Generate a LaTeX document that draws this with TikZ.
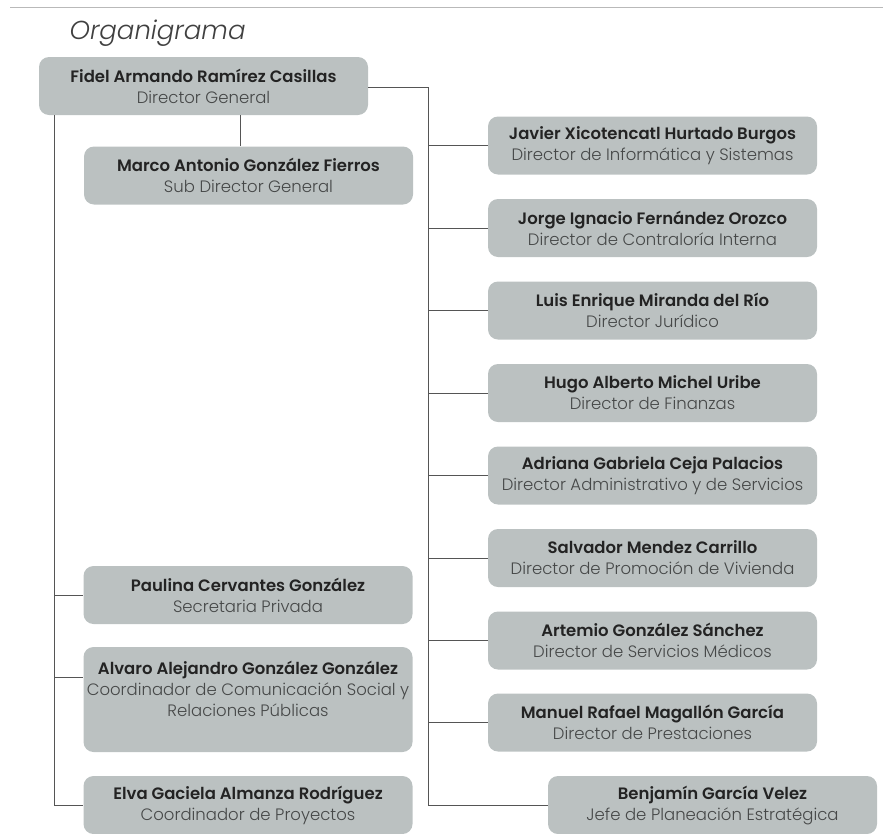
\documentclass[tikz,border=0pt]{standalone}
\usepackage{fontspec}
\setmainfont{Poppins}[BoldFont=* SemiBold]
\newfontfamily\ligera{Poppins}[UprightFont=* Light, ItalicFont=* Light Italic]
\usetikzlibrary{positioning}
\definecolor{cajagris}{RGB}{187,193,193}
\definecolor{lineagris}{RGB}{85,85,85}
\definecolor{nombregris}{RGB}{35,35,35}
\definecolor{cargogris}{RGB}{70,72,72}
\tikzset{
  persona/.style={fill=cajagris, rounded corners=10pt, minimum width=329pt,
    minimum height=58pt, inner sep=0pt, align=center, text=nombregris,
    font=\fontsize{16.5}{21}\selectfont},
  rama/.style={draw=lineagris, line width=0.8pt}
}
\newcommand{\cargo}[1]{{\ligera\color{cargogris}#1}}

\begin{document}
\begin{tikzpicture}[x=1pt, y=-1pt]
\useasboundingbox (0,0) rectangle (883,833);

\draw[gray!55, line width=0.8pt] (10,7) -- (883,7);
\node[anchor=west, text=black!75, font=\fontsize{26}{30}\selectfont\ligera\itshape] (titulo) at (66,33) {Organigrama};

\node[persona] (fidel) at (203.5,86) {\textbf{Fidel Armando Ramírez Casillas}\\\cargo{Director General}};
\node[persona] (marco) at (248.5,175.5) {\textbf{Marco Antonio González Fierros}\\\cargo{Sub Director General}};

\node[persona] (javier) at (652.5,145.5) {\textbf{Javier Xicotencatl Hurtado Burgos}\\\cargo{Director de Informática y Sistemas}};
\node[persona] (jorge) at (652.5,228) {\textbf{Jorge Ignacio Fernández Orozco}\\\cargo{Director de Contraloría Interna}};
\node[persona] (luis) at (652.5,310.5) {\textbf{Luis Enrique Miranda del Río}\\\cargo{Director Jurídico}};
\node[persona] (hugo) at (652.5,393) {\textbf{Hugo Alberto Michel Uribe}\\\cargo{Director de Finanzas}};
\node[persona] (adriana) at (652.5,475.5) {\textbf{Adriana Gabriela Ceja Palacios}\\\cargo{Director Administrativo y de Servicios}};
\node[persona] (salvador) at (652.5,558) {\textbf{Salvador Mendez Carrillo}\\\cargo{Director de Promoción de Vivienda}};
\node[persona] (artemio) at (652.5,640.5) {\textbf{Artemio González Sánchez}\\\cargo{Director de Servicios Médicos}};
\node[persona] (manuel) at (652.5,722.5) {\textbf{Manuel Rafael Magallón García}\\\cargo{Director de Prestaciones}};
\node[persona] (benjamin) at (712.5,805) {\textbf{Benjamín García Velez}\\\cargo{Jefe de Planeación Estratégica}};

\node[persona] (paulina) at (248,595) {\textbf{Paulina Cervantes González}\\\cargo{Secretaria Privada}};
\node[persona, minimum height=105pt] (alvaro) at (248,699.5) {\textbf{Alvaro Alejandro González González}\\\cargo{Coordinador de Comunicación Social y}\\\cargo{Relaciones Públicas}\\\mbox{}};
\node[persona] (elva) at (248,805) {\textbf{Elva Gaciela Almanza Rodríguez}\\\cargo{Coordinador de Proyectos}};

% tronco derecho
\coordinate (troncoder) at (428,87);
\draw[rama] (fidel.east |- troncoder) -- (troncoder) |- (benjamin.west);
\foreach \d in {javier,jorge,luis,hugo,adriana,salvador,artemio,manuel}
  \draw[rama] (troncoder |- \d.west) -- (\d.west);

% tronco izquierdo
\coordinate (troncoizq) at (54,115);
\draw[rama] (troncoizq |- fidel.south) |- (elva.west);
\draw[rama] (troncoizq |- paulina.west) -- (paulina.west);
\draw[rama] (troncoizq |- alvaro.north) ++(0,31) -- ([yshift=-31pt]alvaro.north west);

% sub director
\draw[rama] ([xshift=36.5pt]fidel.south) -- ([xshift=36.5pt]fidel.south |- marco.north);
\end{tikzpicture}
\end{document}
